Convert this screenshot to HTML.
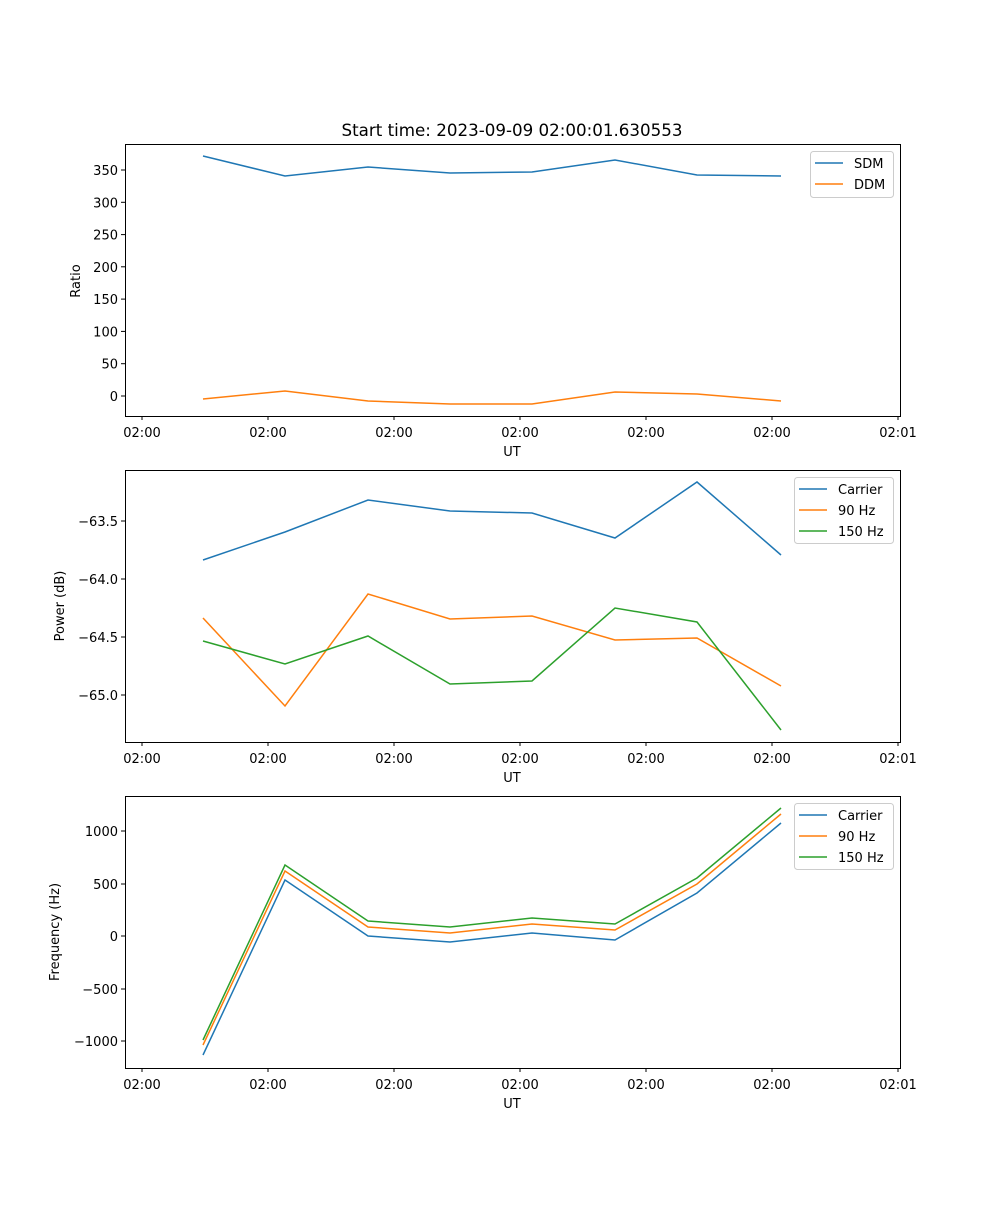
<!DOCTYPE html>
<html><head><meta charset="utf-8"><style>
body{margin:0;background:#fff}
text{font-family:"DejaVu Sans","Liberation Sans",sans-serif;font-size:13px;fill:#000}
</style></head><body>
<svg width="1000" height="1200" xmlns="http://www.w3.org/2000/svg">
<rect width="1000" height="1200" fill="#fff"/>
<text x="512" y="136" text-anchor="middle" style="font-size:16.7px">Start time: 2023-09-09 02:00:01.630553</text>

<!-- Plot 1 -->
<g>
<rect x="125.5" y="144.5" width="775" height="272" fill="none" stroke="#000" stroke-width="1"/>
<g stroke="#000">
<line x1="142" y1="416" x2="142" y2="420"/><line x1="268" y1="416" x2="268" y2="420"/><line x1="394" y1="416" x2="394" y2="420"/><line x1="520" y1="416" x2="520" y2="420"/><line x1="646" y1="416" x2="646" y2="420"/><line x1="772" y1="416" x2="772" y2="420"/><line x1="898" y1="416" x2="898" y2="420"/>
<line x1="121" y1="396" x2="125" y2="396"/><line x1="121" y1="363.7" x2="125" y2="363.7"/><line x1="121" y1="331.4" x2="125" y2="331.4"/><line x1="121" y1="299.1" x2="125" y2="299.1"/><line x1="121" y1="266.8" x2="125" y2="266.8"/><line x1="121" y1="234.6" x2="125" y2="234.6"/><line x1="121" y1="202.3" x2="125" y2="202.3"/><line x1="121" y1="170" x2="125" y2="170"/>
</g>
<g text-anchor="middle"><text x="142" y="437">02:00</text><text x="268" y="437">02:00</text><text x="394" y="437">02:00</text><text x="520" y="437">02:00</text><text x="646" y="437">02:00</text><text x="772" y="437">02:00</text><text x="898" y="437">02:01</text></g>
<g text-anchor="end"><text x="118" y="401">0</text><text x="118" y="368.7">50</text><text x="118" y="336.4">100</text><text x="118" y="304.1">150</text><text x="118" y="271.8">200</text><text x="118" y="239.6">250</text><text x="118" y="207.3">300</text><text x="118" y="175">350</text></g>
<text x="512" y="456" text-anchor="middle">UT</text>
<text transform="translate(80,281) rotate(-90)" text-anchor="middle">Ratio</text>
<polyline fill="none" stroke="#1f77b4" stroke-width="1.5" points="203,156 285,176 368,167 450,173 532,172 615,160 697,175 781,176"/>
<polyline fill="none" stroke="#ff7f0e" stroke-width="1.5" points="203,399 285,391 368,401 450,404 532,404 615,392 697,394 781,401"/>
<rect x="810.5" y="151.5" width="83" height="46" rx="3" fill="#fff" stroke="#ccc"/>
<line x1="815" y1="163" x2="843" y2="163" stroke="#1f77b4" stroke-width="1.5"/><text x="854" y="168">SDM</text>
<line x1="815" y1="184" x2="843" y2="184" stroke="#ff7f0e" stroke-width="1.5"/><text x="854" y="189">DDM</text>
</g>

<!-- Plot 2 -->
<g>
<rect x="125.5" y="470.5" width="775" height="272" fill="none" stroke="#000"/>
<g stroke="#000">
<line x1="142" y1="742" x2="142" y2="746"/><line x1="268" y1="742" x2="268" y2="746"/><line x1="394" y1="742" x2="394" y2="746"/><line x1="520" y1="742" x2="520" y2="746"/><line x1="646" y1="742" x2="646" y2="746"/><line x1="772" y1="742" x2="772" y2="746"/><line x1="898" y1="742" x2="898" y2="746"/>
<line x1="121" y1="521" x2="125" y2="521"/><line x1="121" y1="579" x2="125" y2="579"/><line x1="121" y1="637" x2="125" y2="637"/><line x1="121" y1="695" x2="125" y2="695"/>
</g>
<g text-anchor="middle"><text x="142" y="763">02:00</text><text x="268" y="763">02:00</text><text x="394" y="763">02:00</text><text x="520" y="763">02:00</text><text x="646" y="763">02:00</text><text x="772" y="763">02:00</text><text x="898" y="763">02:01</text></g>
<g text-anchor="end"><text x="118" y="526">−63.5</text><text x="118" y="584">−64.0</text><text x="118" y="642">−64.5</text><text x="118" y="700">−65.0</text></g>
<text x="512" y="782" text-anchor="middle">UT</text>
<text transform="translate(64,606) rotate(-90)" text-anchor="middle">Power (dB)</text>
<polyline fill="none" stroke="#1f77b4" stroke-width="1.5" points="203,560 285,532 368,500 450,511 532,513 615,538 697,482 781,555"/>
<polyline fill="none" stroke="#ff7f0e" stroke-width="1.5" points="203,618 285,706 368,594 450,619 532,616 615,640 697,638 781,686"/>
<polyline fill="none" stroke="#2ca02c" stroke-width="1.5" points="203,641 285,664 368,636 450,684 532,681 615,608 697,622 781,730"/>
<rect x="794.5" y="477.5" width="99" height="66" rx="3" fill="#fff" stroke="#ccc"/>
<line x1="799" y1="489" x2="827" y2="489" stroke="#1f77b4" stroke-width="1.5"/><text x="838" y="494">Carrier</text>
<line x1="799" y1="510" x2="827" y2="510" stroke="#ff7f0e" stroke-width="1.5"/><text x="838" y="515">90 Hz</text>
<line x1="799" y1="531" x2="827" y2="531" stroke="#2ca02c" stroke-width="1.5"/><text x="838" y="536">150 Hz</text>
</g>

<!-- Plot 3 -->
<g>
<rect x="125.5" y="796.5" width="775" height="272" fill="none" stroke="#000"/>
<g stroke="#000">
<line x1="142" y1="1068" x2="142" y2="1072"/><line x1="268" y1="1068" x2="268" y2="1072"/><line x1="394" y1="1068" x2="394" y2="1072"/><line x1="520" y1="1068" x2="520" y2="1072"/><line x1="646" y1="1068" x2="646" y2="1072"/><line x1="772" y1="1068" x2="772" y2="1072"/><line x1="898" y1="1068" x2="898" y2="1072"/>
<line x1="121" y1="831" x2="125" y2="831"/><line x1="121" y1="884" x2="125" y2="884"/><line x1="121" y1="936" x2="125" y2="936"/><line x1="121" y1="989" x2="125" y2="989"/><line x1="121" y1="1041" x2="125" y2="1041"/>
</g>
<g text-anchor="middle"><text x="142" y="1089">02:00</text><text x="268" y="1089">02:00</text><text x="394" y="1089">02:00</text><text x="520" y="1089">02:00</text><text x="646" y="1089">02:00</text><text x="772" y="1089">02:00</text><text x="898" y="1089">02:01</text></g>
<g text-anchor="end"><text x="118" y="836">1000</text><text x="118" y="889">500</text><text x="118" y="941">0</text><text x="118" y="994">−500</text><text x="118" y="1046">−1000</text></g>
<text x="512" y="1108" text-anchor="middle">UT</text>
<text transform="translate(59,932) rotate(-90)" text-anchor="middle">Frequency (Hz)</text>
<polyline fill="none" stroke="#1f77b4" stroke-width="1.5" points="203,1055 285,880 368,936 450,942 532,933 615,940 697,893 781,823"/>
<polyline fill="none" stroke="#ff7f0e" stroke-width="1.5" points="203,1045 285,871 368,927 450,933 532,924 615,930 697,884 781,814"/>
<polyline fill="none" stroke="#2ca02c" stroke-width="1.5" points="203,1040 285,865 368,921 450,927 532,918 615,924 697,878 781,808"/>
<rect x="794.5" y="803.5" width="99" height="66" rx="3" fill="#fff" stroke="#ccc"/>
<line x1="799" y1="815" x2="827" y2="815" stroke="#1f77b4" stroke-width="1.5"/><text x="838" y="820">Carrier</text>
<line x1="799" y1="836" x2="827" y2="836" stroke="#ff7f0e" stroke-width="1.5"/><text x="838" y="841">90 Hz</text>
<line x1="799" y1="857" x2="827" y2="857" stroke="#2ca02c" stroke-width="1.5"/><text x="838" y="862">150 Hz</text>
</g>
</svg>
</body></html>
